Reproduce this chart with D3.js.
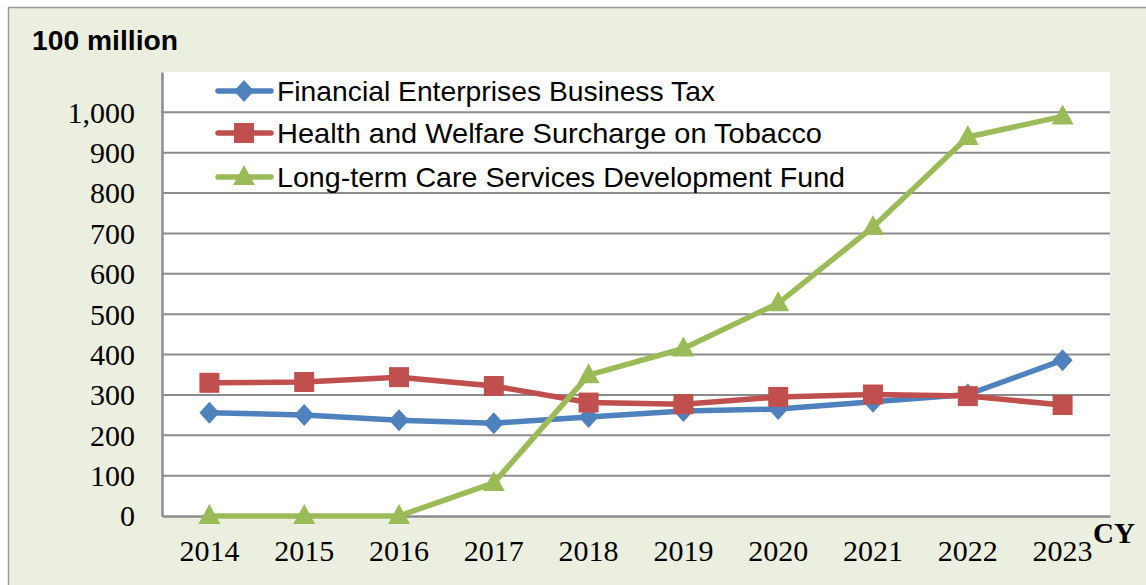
<!DOCTYPE html>
<html>
<head>
<meta charset="utf-8">
<script src="https://cdn.jsdelivr.net/npm/d3@7"></script>
<style>
  body { margin: 0; background: #fff; }
  svg { display: block; }
</style>
</head>
<body>
<div id="chart"></div>
<script>
// data (unit: 100 million)
var years = ["2014", "2015", "2016", "2017", "2018", "2019", "2020", "2021", "2022", "2023"];
var financialTax = [256, 250, 237, 230, 245, 260, 265, 283, 301, 386];
var tobaccoSurcharge = [330, 332, 344, 322, 281, 277, 295, 301, 297, 275];
var longTermCare = [0, 0, 0, 82, 349, 415, 527, 716, 939, 990];
var yTicks = [0, 100, 200, 300, 400, 500, 600, 700, 800, 900, 1000];
var seriesNames = [
  "Financial Enterprises Business Tax",
  "Health and Welfare Surcharge on Tobacco",
  "Long-term Care Services Development Fund"
];

var W = 1146, H = 585;
var plot = {left: 162, top: 72, right: 1110, bottom: 516};

var svg = d3.select("#chart").append("svg")
  .attr("width", W)
  .attr("height", H);

// outer chart area
svg.append("rect")
  .attr("x", 8.5).attr("y", 7.5)
  .attr("width", W + 20).attr("height", H + 20)
  .attr("fill", "#ebefdf")
  .attr("stroke", "#9a9a9a")
  .attr("stroke-width", 1.5);

// plot area
svg.append("rect")
  .attr("x", plot.left).attr("y", plot.top)
  .attr("width", plot.right - plot.left)
  .attr("height", plot.bottom - plot.top)
  .attr("fill", "#fff");

var x = d3.scaleBand()
  .domain(years)
  .range([plot.left, plot.right]);

var y = d3.scaleLinear()
  .domain([0, 1100])
  .range([plot.bottom, plot.top]);

var cx = function(d, i) { return x(years[i]) + x.bandwidth() / 2; };

// gridlines
svg.append("g").selectAll("line")
  .data(yTicks.filter(function(d) { return d > 0; }))
  .enter().append("line")
    .attr("x1", plot.left).attr("x2", plot.right)
    .attr("y1", function(d) { return y(d); })
    .attr("y2", function(d) { return y(d); })
    .attr("stroke", "#8c8c8c")
    .attr("stroke-width", 2);

// y axis
var yAxis = svg.append("g")
  .attr("transform", "translate(" + plot.left + ",0)")
  .call(d3.axisLeft(y).tickValues(yTicks).tickSize(0).tickPadding(27)
    .tickFormat(d3.format(",")));
yAxis.select(".domain").attr("stroke", "#8c8c8c").attr("stroke-width", 2.5);
yAxis.selectAll("text")
  .attr("font-family", "Liberation Serif, Times New Roman, serif")
  .attr("font-size", 30)
  .attr("fill", "#000")
  .attr("dy", "0.33em");

// x axis
var xAxis = svg.append("g")
  .attr("transform", "translate(0," + plot.bottom + ")")
  .call(d3.axisBottom(x).tickSize(0).tickPadding(24));
xAxis.select(".domain").attr("stroke", "#8c8c8c").attr("stroke-width", 2.5);
xAxis.selectAll("text")
  .attr("font-family", "Liberation Serif, Times New Roman, serif")
  .attr("font-size", 30)
  .attr("fill", "#000");

// unit label and axis name
svg.append("text")
  .attr("x", 32).attr("y", 50)
  .attr("font-family", "Liberation Sans, Arial, sans-serif")
  .attr("font-weight", "bold")
  .attr("font-size", 27)
  .attr("textLength", 146)
  .attr("lengthAdjust", "spacingAndGlyphs")
  .text("100 million");

svg.append("text")
  .attr("x", 1093).attr("y", 543)
  .attr("font-family", "Liberation Serif, Times New Roman, serif")
  .attr("font-weight", "bold")
  .attr("font-size", 29)
  .text("CY");

var colors = ["#4f81bd", "#c0504d", "#9bbb59"];
var allSeries = [financialTax, tobaccoSurcharge, longTermCare];

function markerPath(k) {
  if (k === 0) return "M0,-11L10,0L0,11L-10,0Z";
  if (k === 1) return "M-10,-10H10V10H-10Z";
  return "M0,-12L11,8H-11Z";
}

var line = d3.line()
  .x(cx)
  .y(function(d) { return y(d); });

allSeries.forEach(function(vals, k) {
  svg.append("path")
    .datum(vals)
    .attr("d", line)
    .attr("fill", "none")
    .attr("stroke", colors[k])
    .attr("stroke-width", 5.5)
    .attr("stroke-linejoin", "round");
  svg.append("g").selectAll("path")
    .data(vals)
    .enter().append("path")
      .attr("transform", function(d, i) { return "translate(" + cx(d, i) + "," + y(d) + ")"; })
      .attr("d", markerPath(k))
      .attr("fill", colors[k]);
});

// legend
var legendY = [91, 133, 177];
var legendW = [438, 545, 568];
var legend = svg.append("g");
seriesNames.forEach(function(name, k) {
  var g = legend.append("g").attr("transform", "translate(0," + legendY[k] + ")");
  g.append("line")
    .attr("x1", 218).attr("x2", 271)
    .attr("stroke", colors[k])
    .attr("stroke-width", 5.5)
    .attr("stroke-linecap", "round");
  g.append("path")
    .attr("transform", "translate(244,0)")
    .attr("d", markerPath(k))
    .attr("fill", colors[k]);
  g.append("text")
    .attr("x", 277).attr("y", 0)
    .attr("dy", "0.35em")
    .attr("font-family", "Liberation Sans, Arial, sans-serif")
    .attr("font-size", 28)
    .attr("textLength", legendW[k])
    .attr("lengthAdjust", "spacingAndGlyphs")
    .text(name);
});
</script>
</body>
</html>
